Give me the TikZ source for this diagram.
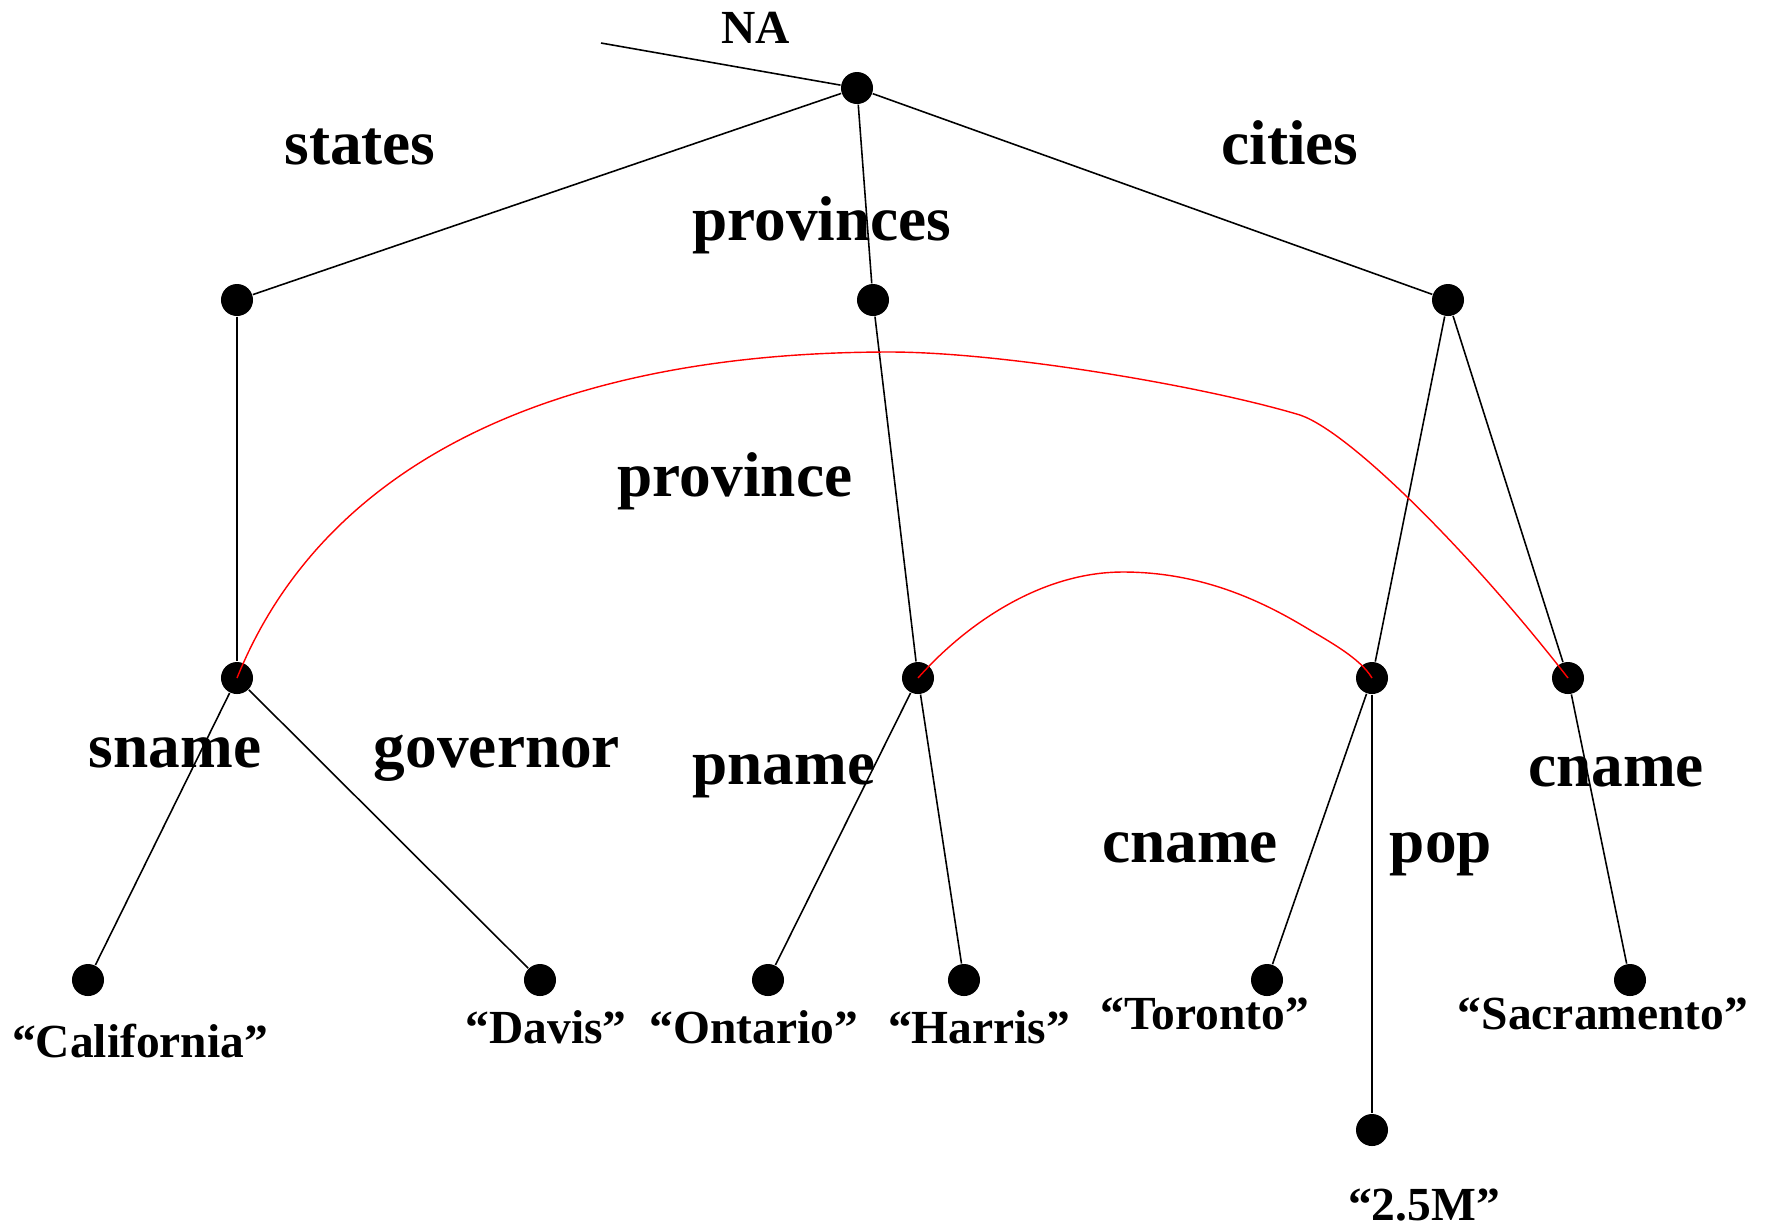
\documentclass[tikz,border=0pt]{standalone}
\usepackage{fontspec}
\setmainfont{Liberation Serif}
\usepackage{tikz}

\begin{document}
\begin{tikzpicture}[x=0.01cm,y=-0.01cm,
        dot/.style={circle,fill=black,inner sep=0pt,minimum size=0.32cm},
        edge/.style={line width=0.45pt},
        link/.style={red,line width=0.4pt},
        elabel/.style={anchor=base,inner sep=0pt,font=\fontsize{18}{18}\selectfont\bfseries},
        vlabel/.style={anchor=base,inner sep=0pt,font=\fontsize{13.5}{13.5}\selectfont\bfseries}]
        \useasboundingbox (0,0) rectangle (1769,1229);

        % Nodes
        \node [dot] (root) at (857,88) {};
        \node [dot] (states) at (237,300) {};
        \node [dot] (provinces) at (873,300) {};
        \node [dot] (cities) at (1448,300) {};
        \node [dot] (state) at (237,678) {};
        \node [dot] (province) at (918,678) {};
        \node [dot] (city1) at (1372,678) {};
        \node [dot] (city2) at (1568,678) {};
        \node [dot] (california) at (88,980) {};
        \node [dot] (davis) at (540,980) {};
        \node [dot] (ontario) at (768,980) {};
        \node [dot] (harris) at (964,980) {};
        \node [dot] (toronto) at (1267,980) {};
        \node [dot] (sacramento) at (1630,980) {};
        \node [dot] (pop) at (1372,1130) {};
        \coordinate (entry) at (601,43);

        % Tree edges
        \draw [edge] (entry) -- (root);
        \draw [edge] (root) -- (states);
        \draw [edge] (root) -- (provinces);
        \draw [edge] (root) -- (cities);
        \draw [edge] (states) -- (state);
        \draw [edge] (provinces) -- (province);
        \draw [edge] (cities) -- (city1);
        \draw [edge] (cities) -- (city2);
        \draw [edge] (state) -- (california);
        \draw [edge] (state) -- (davis);
        \draw [edge] (province) -- (ontario);
        \draw [edge] (province) -- (harris);
        \draw [edge] (city1) -- (toronto);
        \draw [edge] (city1) -- (pop);
        \draw [edge] (city2) -- (sacramento);

        % Edge labels
        \node [vlabel] (lna) at (756,43) {NA};
        \node [elabel] (lstates) at (360,164) {states};
        \node [elabel] (lcities) at (1290,164) {cities};
        \node [elabel] (lprovinces) at (822,240) {provinces};
        \node [elabel] (lprovince) at (735,496) {province};
        \node [elabel] (lsname) at (175,767) {sname};
        \node [elabel] (lgovernor) at (497,767) {governor};
        \node [elabel] (lpname) at (784,784) {pname};
        \node [elabel] (lcname1) at (1190,862) {cname};
        \node [elabel] (lpop) at (1441,862) {pop};
        \node [elabel] (lcname2) at (1616,786) {cname};

        % Leaf values
        \node [vlabel] (vcalifornia) at (140,1057) {“California”};
        \node [vlabel] (vdavis) at (546,1043) {“Davis”};
        \node [vlabel] (vontario) at (754,1043) {“Ontario”};
        \node [vlabel] (vharris) at (979,1043) {“Harris”};
        \node [vlabel] (vtoronto) at (1205,1029) {“Toronto”};
        \node [vlabel] (vsacramento) at (1603,1029) {“Sacramento”};
        \node [vlabel] (vpop) at (1424,1220) {“2.5M”};

        % Links
        \draw [link] (state.center) .. controls (325,460) and (560,352) .. (890,352)
            .. controls (1000,352) and (1200,385) .. (1300,415)
            .. controls (1350,432) and (1470,552) .. (city2.center);
        \draw [link] (province.center) .. controls (965,625) and (1040,572) .. (1123,572)
            .. controls (1200,572) and (1260,600) .. (1305,627)
            .. controls (1330,642) and (1360,658) .. (city1.center);
\end{tikzpicture}
\end{document}
